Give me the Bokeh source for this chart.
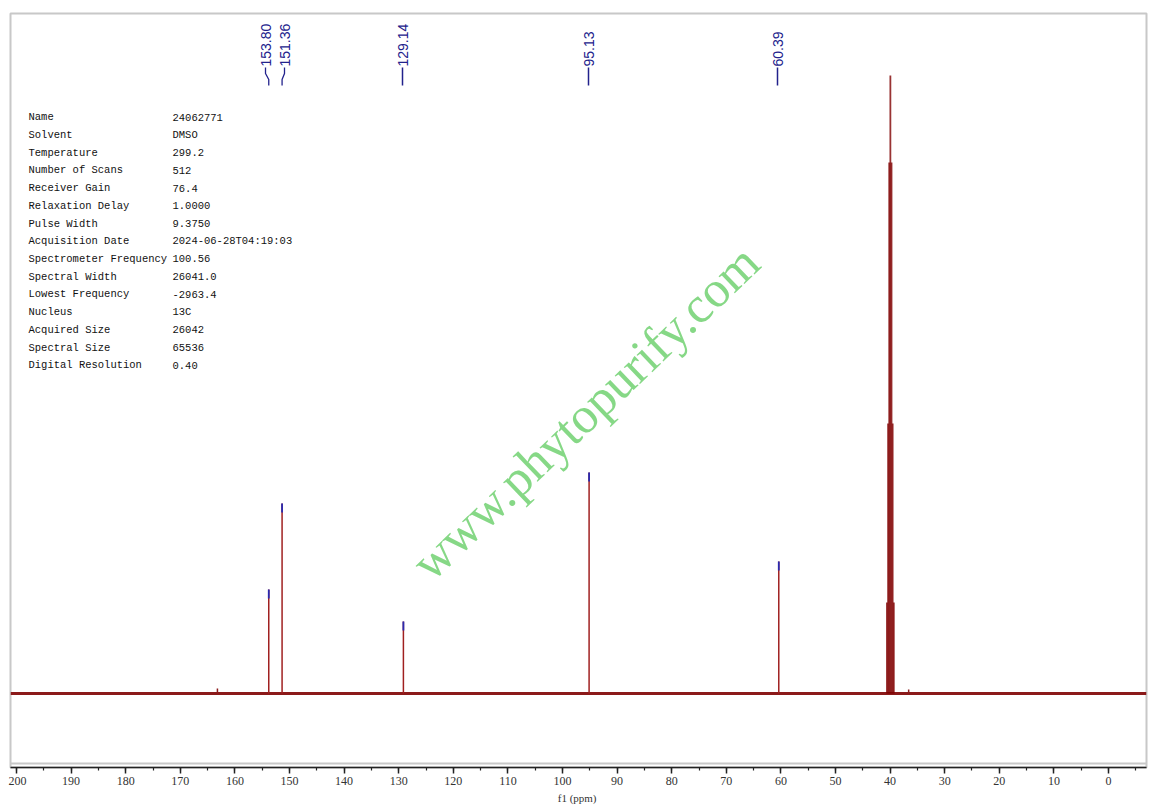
from bokeh.plotting import figure
from bokeh.models import Range1d, SingleIntervalTicker, ColumnDataSource, Label, Span
from bokeh.core.properties import value
from bokeh.embed import file_html
from bokeh.resources import INLINE

# ---------------- data ----------------
peak_ppm = [153.80, 151.36, 129.14, 95.13, 60.39]
peak_height = [104, 190, 72, 221, 132]
peak_labels = ["153.80", "151.36", "129.14", "95.13", "60.39"]

solvent_ppm = [40.58, 40.37, 40.16, 39.95, 39.74, 39.53, 39.32]
solvent_height = [91, 270, 531, 618, 531, 270, 91]

minor_ppm = [163.2, 36.6]
minor_height = [5, 4]

param_names = ["Name", "Solvent", "Temperature", "Number of Scans", "Receiver Gain",
               "Relaxation Delay", "Pulse Width", "Acquisition Date",
               "Spectrometer Frequency", "Spectral Width", "Lowest Frequency",
               "Nucleus", "Acquired Size", "Spectral Size", "Digital Resolution"]
param_values = ["24062771", "DMSO", "299.2", "512", "76.4", "1.0000", "9.3750",
                "2024-06-28T04:19:03", "100.56", "26041.0", "-2963.4", "13C",
                "26042", "65536", "0.40"]

x_start, x_end = 201.1, -6.96
watermark = "www.phytopurify.com"

# ---------------- helpers for annotation placement ----------------
PX0, PXS, BASE = 1108.0, 5.46, 693.0
def X(px):
    return (PX0 - px) / PXS
def Y(py):
    return BASE - py

p = figure(width=1144, height=806, output_backend="svg", toolbar_location=None,
           x_range=Range1d(x_start, x_end), y_range=Range1d(-74, 680),
           y_axis_location=None, min_border_left=2, min_border_right=6,
           min_border_top=13, min_border_bottom=0, margin=(0, 0, 0, 8))
p.grid.visible = False
p.outline_line_color = "#c8c8c8"
p.outline_line_width = 2
p.background_fill_color = "white"
p.border_fill_color = "white"

# bottom gray frame line
p.add_layout(Span(location=-70, dimension="width", line_color="#c8c8c8", line_width=2))

ax = p.xaxis[0]
ax.ticker = SingleIntervalTicker(interval=10, num_minor_ticks=2)
ax.axis_line_color = "#222222"
ax.axis_line_width = 1.5
ax.major_tick_line_color = "#222222"
ax.minor_tick_line_color = "#222222"
ax.major_tick_line_width = 1.5
ax.minor_tick_line_width = 1.2
ax.major_tick_in = 0
ax.major_tick_out = 6
ax.minor_tick_in = 0
ax.minor_tick_out = 3
ax.major_label_text_font = "Liberation Serif"
ax.major_label_text_font_size = "12px"
ax.major_label_text_color = "#333333"
ax.major_label_standoff = 3
ax.axis_label = "f1  (ppm)"
ax.axis_label_text_font = "Liberation Serif"
ax.axis_label_text_font_size = "11px"
ax.axis_label_text_font_style = "normal"
ax.axis_label_text_color = "#333333"
ax.axis_label_standoff = 4

# watermark
p.add_layout(Label(x=X(585), y=Y(412), text=watermark, angle=0.763,
                   text_align="center", text_baseline="middle",
                   text_font="Liberation Serif", text_font_size="51px",
                   text_color="#7fd67f", text_alpha=0.95))

# baseline
p.line(x=[x_start, x_end], y=[0, 0], line_color="#8b1a1a", line_width=2.8)

# solvent multiplet
p.segment(x0=solvent_ppm, x1=solvent_ppm, y0=[0] * len(solvent_ppm), y1=solvent_height,
          line_color="#800000", line_width=1.8, line_alpha=0.8)
# minor peaks
p.segment(x0=minor_ppm, x1=minor_ppm, y0=[0] * len(minor_ppm), y1=minor_height,
          line_color="#8b1a1a", line_width=1.5)
# labelled peaks
src = ColumnDataSource(dict(x=peak_ppm, h=peak_height, z=[0] * len(peak_ppm),
                            tip=[h - 9 for h in peak_height]))
p.segment(x0="x", x1="x", y0="z", y1="h", source=src, line_color="#a02020", line_width=1.5)
p.segment(x0="x", x1="x", y0="tip", y1="h", source=src, line_color="#2a2ab0", line_width=1.8)

# peak labels with connectors
label_px = [265, 284, 402, 588, 777]
bent = [True, True, False, False, False]
lab_col = "#22228c"
for txt, ppm, lpx, b in zip(peak_labels, peak_ppm, label_px, bent):
    lx = X(lpx)
    p.add_layout(Label(x=lx, y=Y(66), text=txt, angle=1.5708,
                       text_align="left", text_baseline="middle",
                       text_font="Liberation Sans", text_font_size="14px",
                       text_color=lab_col))
    if b:
        p.line(x=[lx, lx, ppm, ppm], y=[Y(67), Y(73), Y(79), Y(85)], line_color=lab_col, line_width=1.3)
    else:
        p.line(x=[lx, lx], y=[Y(67), Y(85)], line_color=lab_col, line_width=1.5)

# parameter table
for i, (nm, vl) in enumerate(zip(param_names, param_values)):
    py = 116.7 + 17.72 * i
    p.add_layout(Label(x=X(28), y=Y(py), text=nm, text_align="left", text_baseline="middle",
                       text_font="Liberation Mono", text_font_size="10.5px", text_color="#111111"))
    p.add_layout(Label(x=X(172), y=Y(py), text=vl, text_align="left", text_baseline="middle",
                       text_font="Liberation Mono", text_font_size="10.5px", text_color="#111111"))

open("out.html", "w").write(file_html(p, INLINE))
